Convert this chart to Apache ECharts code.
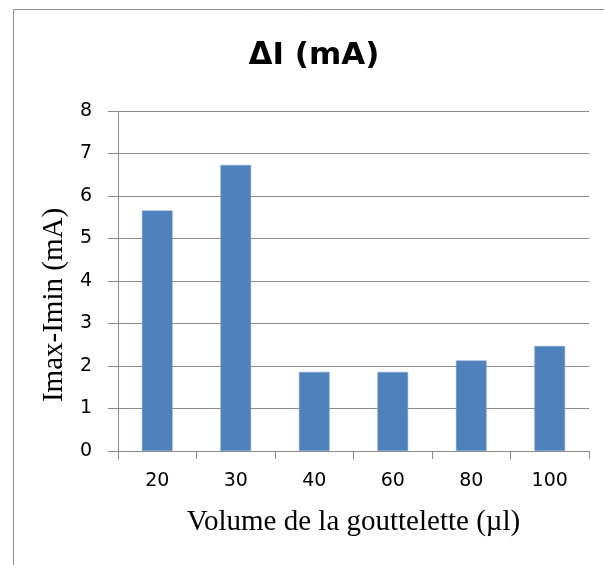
<!DOCTYPE html>
<html>
<head>
<meta charset="utf-8">
<script src="https://cdn.jsdelivr.net/npm/echarts@6/dist/echarts.min.js"></script>
<style>
  html, body { margin: 0; padding: 0; background: #fff; }
  #chart { width: 604px; height: 565px; }
</style>
</head>
<body>
<div id="chart"></div>
<script>
// Droplet volume (µl) and measured current swing Imax - Imin (mA)
const volumes = ['20', '30', '40', '60', '80', '100'];
const deltaI = [5.66, 6.73, 1.86, 1.86, 2.13, 2.47];
const yTicks = [0, 1, 2, 3, 4, 5, 6, 7, 8];

const chart = echarts.init(document.getElementById('chart'), null, { renderer: 'canvas' });

const gridColor = '#8c8c8c';

chart.setOption({
  animation: false,
  backgroundColor: '#ffffff',
  graphic: [{
    type: 'rect',
    left: 11, top: 7,
    shape: { width: 700, height: 700 },
    style: { fill: 'none', stroke: '#8e8e8e', lineWidth: 1 },
    silent: true,
    z: -1
  }],
  title: {
    text: 'ΔI (mA)',
    left: 309, top: 35,
    textAlign: 'center',
    textStyle: { fontFamily: 'DejaVu Sans', fontWeight: 'bold', fontSize: 31, color: '#000' }
  },
  grid: { left: 118, right: 15, top: 111, bottom: 114 },
  xAxis: {
    type: 'category',
    data: volumes,
    name: 'Volume de la gouttelette (µl)',
    nameLocation: 'middle',
    nameGap: 57,
    nameTextStyle: { fontFamily: 'Liberation Serif', fontSize: 29, color: '#000' },
    axisLine: { lineStyle: { color: gridColor, width: 1 } },
    axisTick: { show: true, length: 8, lineStyle: { color: gridColor } },
    axisLabel: { fontFamily: 'DejaVu Sans', fontSize: 19, color: '#000', margin: 21 }
  },
  yAxis: {
    type: 'value',
    min: yTicks[0], max: yTicks[yTicks.length - 1], interval: 1,
    name: 'Imax-Imin (mA)',
    nameLocation: 'middle',
    nameGap: 49,
    nameTextStyle: { fontFamily: 'Liberation Serif', fontSize: 29, color: '#000', padding: [0, 48, 0, 0] },
    axisLine: { show: true, lineStyle: { color: gridColor, width: 1 } },
    axisTick: { show: true, length: 10, lineStyle: { color: gridColor } },
    axisLabel: { fontFamily: 'DejaVu Sans', fontSize: 19, color: '#000', margin: 26 },
    splitLine: { show: true, lineStyle: { color: gridColor, width: 1 } }
  },
  series: [{
    type: 'bar',
    data: deltaI,
    barCategoryGap: '61%',
    itemStyle: { color: '#4f81bd', borderColor: '#7ea3d4', borderWidth: 0.5 }
  }]
});
</script>
</body>
</html>
